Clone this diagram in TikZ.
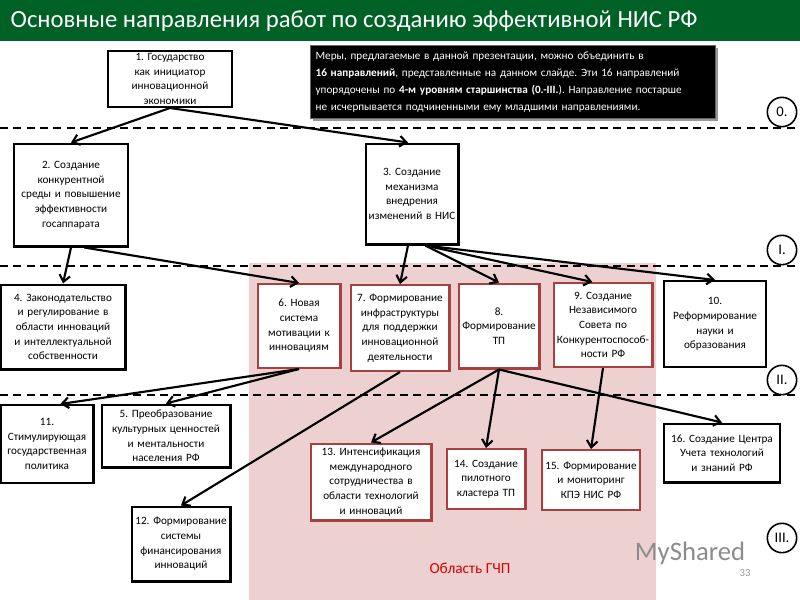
\documentclass[tikz,border=0pt]{standalone}
\usepackage{fontspec}
\setmainfont{Carlito}
\usetikzlibrary{arrows.meta}
\begin{document}
\frenchspacing
\begin{tikzpicture}[x=0.75pt,y=-0.75pt,
  bx/.style={draw=black,line width=1.6pt,fill=white,align=center,inner sep=1pt,font=\fontsize{8.4}{11}\selectfont},
  rbx/.style={bx,draw=red!55!black!75},
  arr/.style={line width=1.6pt,-{Straight Barb[length=5pt,width=8pt]}},
  lvl/.style={dashed,line width=1.2pt,dash pattern=on 6pt off 4pt},
  circ/.style={circle,draw,line width=1.2pt,fill=white,minimum size=22pt,inner sep=0pt,font=\fontsize{11}{12}\selectfont}]
\useasboundingbox (0,0) rectangle (800,600);
\fill[white] (0,0) rectangle (800,600);
\fill[red!60!black!18] (249,263) rectangle (656,600);
\fill[green!45!black!85!blue] (0,0) rectangle (800,41);
\node[anchor=west,text=white,font=\fontsize{18.5}{20}\selectfont] (title) at (6,21) {Основные направления работ по созданию эффективной НИС РФ};
\draw[lvl] (0,128) -- (800,128);
\draw[lvl] (0,266) -- (800,266);
\draw[lvl] (0,395) -- (800,395);
\node[circ] (c0) at (782,112) {0.};
\node[circ] (c1) at (782,250) {I.};
\node[circ] (c2) at (782,380) {II.};
\node[circ] (c3) at (782,538) {III.};
\fill[black!40] (313,48) rectangle (718,121);
\node[fill=black,draw=black!60,text=white,align=left,anchor=north west,text width=405*0.75pt-8pt,minimum height=73*0.75pt,inner sep=4pt,font=\fontsize{8.4}{12.8}\selectfont] (note) at (310,45) {Меры, предлагаемые в данной презентации, можно объединить в\\\textbf{16 направлений}, представленные на данном слайде. Эти 16 направлений\\упорядочены по \textbf{4-м уровням старшинства (0.-III.}). Направление постарше\\не исчерпывается подчиненными ему младшими направлениями.};
\newcommand{\bxat}[7]{\node[#1,minimum width=#4*0.75pt-1.6pt,minimum height=#5*0.75pt-1.6pt,text width=#4*0.75pt-4pt] (#2) at (#3) {#7};}
\bxat{bx}{n1}{170,79}{126}{58}{}{1. Государство как инициатор инновационной экономики}
\bxat{bx}{n2}{71,195}{116}{105}{}{2. Создание конкурентной среды и повышение эффективности госаппарата}
\bxat{bx}{n3}{412,194}{95}{103}{}{3. Создание механизма внедрения изменений в НИС}
\bxat{bx}{n4}{63,327}{127}{87}{}{4. Законодательство и регулирование в области инноваций и интеллектуальной собственности}
\bxat{rbx}{n6}{299,326}{85}{86}{}{6. Новая система мотивации к инновациям}
\bxat{rbx}{n7}{400,328}{101}{88}{}{7. Формирование инфраструктуры для поддержки инновационной деятельности}
\bxat{rbx}{n8}{499,326}{83}{87}{}{8.\\Формирование ТП}
\bxat{rbx}{n9}{603,325}{101}{86}{}{9. Создание Независимого Совета по Конкурентоспособ\-ности РФ}
\bxat{bx}{n10}{715,324}{104}{88}{}{10. Реформирование науки и образования}
\bxat{bx}{n11}{47,444}{95}{80}{}{11. Стимулирующая государственная политика}
\bxat{bx}{n5}{166,436}{131}{65}{}{5. Преобразование культурных ценностей и ментальности населения РФ}
\bxat{bx}{n12}{181,544}{101}{77}{}{12. Формирование системы финансирования инноваций}
\bxat{rbx}{n13}{371,482}{123}{79}{}{13. Интенсификация международного сотрудничества в области технологий и инноваций}
\bxat{rbx}{n14}{486,479}{81}{62}{}{14. Создание пилотного кластера ТП}
\bxat{rbx}{n15}{591,480}{100}{62}{}{15. Формирование и мониторинг КПЭ НИС РФ}
\bxat{bx}{n16}{722,453}{118}{61}{}{16. Создание Центра Учета технологий и знаний РФ}
\node[text=red!85!black,font=\fontsize{11.5}{12}\selectfont] (gchp) at (470,568) {Область ГЧП};
\node[text=black!45,font=\fontsize{20}{22}\selectfont] (ms) at (690,553) {MyShared};
\node[text=black!40,font=\fontsize{8}{9}\selectfont] (pg) at (745,573) {33};
\draw[arr] (n1.south) -- ([xshift=0pt]n2.north);
\draw[arr] (n1.south) -- ([xshift=-3pt]n3.north);
\draw[arr] ([xshift=0pt]n2.south) -- (n4.north);
\draw[arr] ([xshift=10pt]n2.south) -- (n6.north);
\draw[arr] ([xshift=-3pt]n3.south) -- (n7.north);
\draw[arr] ([xshift=10pt]n3.south) -- (n8.north);
\draw[arr] ([xshift=10pt]n3.south) -- ([xshift=-8pt]n9.north);
\draw[arr] ([xshift=10pt]n3.south) -- (n10.north);
\draw[arr] (n6.south) -- ([xshift=10pt]n11.north);
\draw[arr] (n6.south) -- (n5.north);
\draw[arr] (n7.south) -- (n12.north);
\draw[arr] (n8.south) -- (n13.north);
\draw[arr] (n8.south) -- (n14.north);
\draw[arr] (n8.south) -- (n16.north);
\draw[arr] (n9.south) -- (n15.north);
\end{tikzpicture}
\end{document}
